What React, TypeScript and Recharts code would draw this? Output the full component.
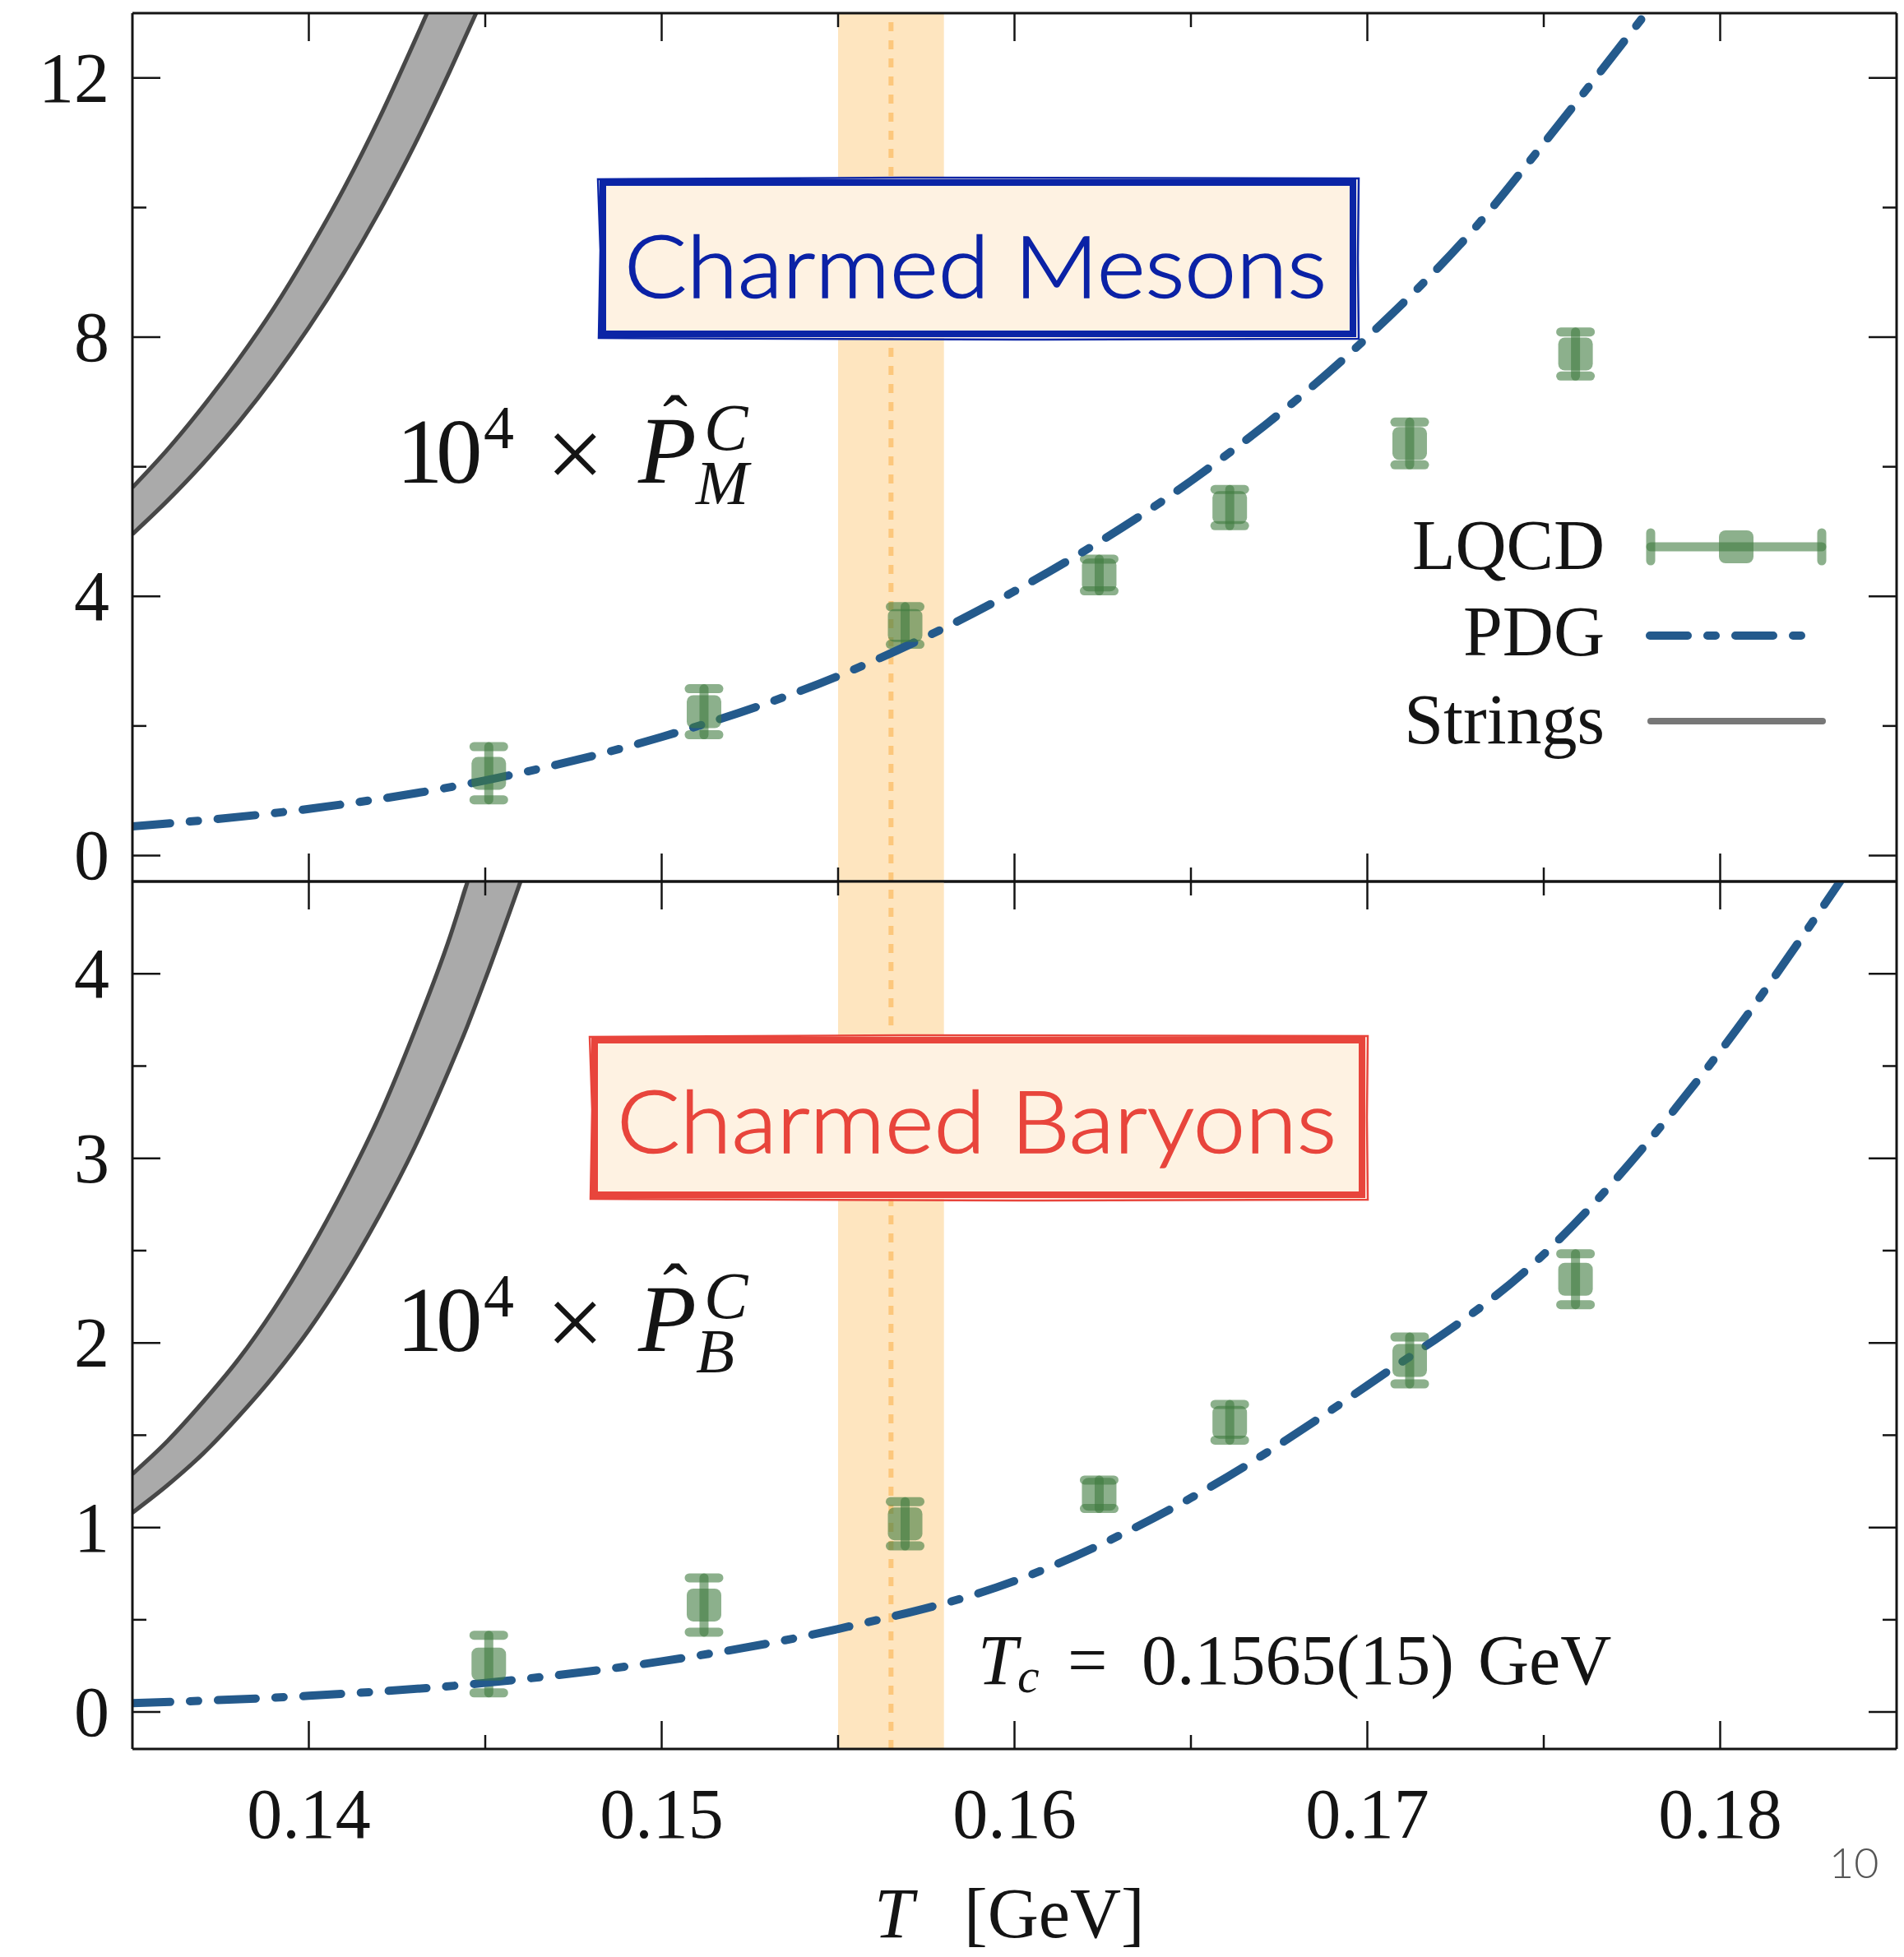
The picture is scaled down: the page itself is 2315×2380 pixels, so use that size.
import React from 'react';
import {
  ComposedChart,
  Line,
  Area,
  Scatter,
  ErrorBar,
  XAxis,
  YAxis,
  ReferenceArea,
  ReferenceLine,
} from 'recharts';

const W = 2315;
const H = 2380;

// temperature axis, GeV
const T_DOMAIN: [number, number] = [0.135, 0.185];
const T_TICKS = [0.14, 0.145, 0.15, 0.155, 0.16, 0.165, 0.17, 0.175, 0.18];

const MESON_Y_DOMAIN: [number, number] = [-0.4, 13];
const MESON_Y_TICKS = [0, 2, 4, 6, 8, 10, 12];
const BARYON_Y_DOMAIN: [number, number] = [-0.2, 4.5];
const BARYON_Y_TICKS = [0, 0.5, 1, 1.5, 2, 2.5, 3, 3.5, 4];

const TC = 0.1565;
const TC_ERR = 0.0015;

// lattice points
const LQCD_T = [0.1451, 0.1512, 0.1569, 0.1624, 0.1661, 0.1712, 0.1759];
const LQCD_MESON = [1.27, 2.22, 3.55, 4.33, 5.37, 6.36, 7.74];
const LQCD_MESON_ERR = [0.41, 0.355, 0.29, 0.245, 0.28, 0.33, 0.34];
const LQCD_BARYON = [0.26, 0.58, 1.02, 1.18, 1.57, 1.905, 2.345];
const LQCD_BARYON_ERR = [0.156, 0.147, 0.12, 0.077, 0.097, 0.127, 0.138];

// PDG hadron resonance gas curves
const PDG_MESON_T = [0.135, 0.14, 0.145, 0.15, 0.155, 0.16, 0.165, 0.17, 0.1732, 0.175, 0.1779];
const PDG_MESON = [0.45, 0.72, 1.16, 1.83, 2.77, 4.08, 5.78, 8.0, 9.78, 10.99, 13.0];
const PDG_BARYON_T = [0.135, 0.14, 0.145, 0.15, 0.155, 0.16, 0.165, 0.17, 0.175, 0.18, 0.1834];
const PDG_BARYON = [0.048, 0.088, 0.158, 0.275, 0.45, 0.71, 1.16, 1.77, 2.48, 3.58, 4.5];

// string model bands (lower / upper edge, capped at the frame)
const STR_MESON_T = [0.135, 0.136, 0.137, 0.138, 0.139, 0.14, 0.141, 0.142, 0.143, 0.14335, 0.144, 0.14474];
const STR_MESON_LO = [4.96, 5.48, 6.05, 6.68, 7.38, 8.15, 9.0, 9.94, 10.97, 11.36, 12.11, 13.0];
const STR_MESON_HI = [5.68, 6.27, 6.93, 7.65, 8.44, 9.33, 10.3, 11.38, 12.57, 13.0, 13.0, 13.0];
const STR_BARYON_T = [0.135, 0.136, 0.137, 0.138, 0.139, 0.14, 0.141, 0.142, 0.143, 0.144, 0.1445, 0.145, 0.146];
const STR_BARYON_LO = [1.08, 1.23, 1.4, 1.6, 1.82, 2.07, 2.36, 2.69, 3.06, 3.49, 3.72, 3.97, 4.5];
const STR_BARYON_HI = [1.29, 1.47, 1.68, 1.91, 2.18, 2.49, 2.84, 3.23, 3.69, 4.2, 4.5, 4.5, 4.5];

const SERIF = '"Liberation Serif", "Times New Roman", serif';
const SANS = 'Lato, "Open Sans", sans-serif';
const INK = '#141414';
const GREEN = '#3f7b3f';
const PDG_BLUE = '#245a8c';

const isMultiple = (v: number, step: number) => Math.abs(v / step - Math.round(v / step)) < 1e-6;

type Side = 'left' | 'right' | 'top' | 'bottom';

const makeTick = (side: Side, majorStep: number, label?: (v: number) => string) => (props: any) => {
  const { x, y, payload } = props;
  const v: number = payload.value;
  const major = isMultiple(v, majorStep);
  const len = major ? 34 : 17;
  let x2 = x;
  let y2 = y;
  if (side === 'left') x2 = x + len;
  if (side === 'right') x2 = x - len;
  if (side === 'top') y2 = y + len;
  if (side === 'bottom') y2 = y - len;
  return (
    <g>
      <line x1={x} y1={y} x2={x2} y2={y2} stroke={INK} strokeWidth={2.5} />
      {label && major && side === 'left' && (
        <text x={x - 28} y={y + 29} textAnchor="end" fontFamily={SERIF} fontSize={86} fill={INK}>
          {label(v)}
        </text>
      )}
      {label && major && side === 'bottom' && (
        <text x={x} y={y + 108} textAnchor="middle" fontFamily={SERIF} fontSize={86} fill={INK}>
          {label(v)}
        </text>
      )}
    </g>
  );
};

const AXIS_LINE = { stroke: INK, strokeWidth: 3 };

const Marker = (props: any) => {
  const { cx, cy } = props;
  if (cx == null || cy == null) return <g />;
  return <rect x={cx - 21} y={cy - 20} width={42} height={40} rx={8} fill={GREEN} fillOpacity={0.6} />;
};

type PanelProps = {
  top: number;
  height: number;
  margin: { top: number; right: number; bottom: number; left: number };
  yDomain: [number, number];
  yTicks: number[];
  yMajor: number;
  pdgT: number[];
  pdg: number[];
  lqcd: number[];
  lqcdErr: number[];
  strT: number[];
  strLo: number[];
  strHi: number[];
  xLabels: boolean;
};

const Panel: React.FC<PanelProps> = ({
  top, height, margin, yDomain, yTicks, yMajor, pdgT, pdg, lqcd, lqcdErr, strT, strLo, strHi, xLabels,
}) => {
  const ymax = yDomain[1];
  const pdgData = pdgT.map((T, i) => ({ T, v: pdg[i] }));
  const lqcdData = LQCD_T.map((T, i) => ({ T, v: lqcd[i], err: lqcdErr[i] }));
  const band = strT.map((T, i) => ({ T, lo: strLo[i], hi: strHi[i] }));
  const hiEdge = band.filter((p, i) => i === 0 || band[i - 1].hi < ymax);
  const loEdge = band.filter((p, i) => i === 0 || band[i - 1].lo < ymax);
  const fmtY = (v: number) => String(v);
  return (
    <div style={{ position: 'absolute', left: 0, top, width: W, height }}>
      <ComposedChart width={W} height={height} margin={margin}>
        <XAxis
          xAxisId="b" dataKey="T" type="number" domain={T_DOMAIN} allowDataOverflow ticks={T_TICKS}
          interval={0} height={1} tickSize={0} tickMargin={0} axisLine={AXIS_LINE} tickLine={false}
          tick={makeTick('bottom', 0.01, xLabels ? (v) => v.toFixed(2) : undefined)}
        />
        <XAxis
          xAxisId="t" orientation="top" dataKey="T" type="number" domain={T_DOMAIN} allowDataOverflow
          ticks={T_TICKS} interval={0} height={1} tickSize={0} tickMargin={0} axisLine={AXIS_LINE}
          tickLine={false} tick={makeTick('top', 0.01)}
        />
        <YAxis
          yAxisId="l" type="number" domain={yDomain} allowDataOverflow ticks={yTicks} interval={0}
          width={1} tickSize={0} tickMargin={0} axisLine={AXIS_LINE} tickLine={false}
          tick={makeTick('left', yMajor, fmtY)}
        />
        <YAxis
          yAxisId="r" orientation="right" type="number" domain={yDomain} allowDataOverflow ticks={yTicks}
          interval={0} width={1} tickSize={0} tickMargin={0} axisLine={AXIS_LINE} tickLine={false}
          tick={makeTick('right', yMajor)}
        />
        <ReferenceArea
          xAxisId="b" yAxisId="l" x1={TC - TC_ERR} x2={TC + TC_ERR}
          fill="#fee5bf" fillOpacity={1} stroke="none"
        />
        <ReferenceLine
          xAxisId="b" yAxisId="l" x={TC} stroke="#fcc77c" strokeWidth={6} strokeDasharray="11 11"
        />
        <Area
          xAxisId="b" yAxisId="l" data={band} dataKey={(d: any) => [d.lo, d.hi]} type="monotone"
          stroke="none" fill="#aaaaaa" fillOpacity={1} isAnimationActive={false} activeDot={false}
        />
        <Line
          xAxisId="b" yAxisId="l" data={hiEdge} dataKey="hi" type="monotone" stroke="#474747"
          strokeWidth={5} dot={false} activeDot={false} isAnimationActive={false}
        />
        <Line
          xAxisId="b" yAxisId="l" data={loEdge} dataKey="lo" type="monotone" stroke="#474747"
          strokeWidth={5} dot={false} activeDot={false} isAnimationActive={false}
        />
        <Scatter xAxisId="b" yAxisId="l" data={lqcdData} dataKey="v" shape={Marker} isAnimationActive={false}>
          <ErrorBar
            dataKey="err" direction="y" width={18} stroke={GREEN} strokeOpacity={0.6}
            strokeWidth={11} strokeLinecap="round"
          />
        </Scatter>
        <Line
          xAxisId="b" yAxisId="l" data={pdgData} dataKey="v" type="monotone" stroke={PDG_BLUE}
          strokeWidth={10} strokeDasharray="46 24 10 24" strokeLinecap="round" dot={false}
          activeDot={false} isAnimationActive={false}
        />
        <Line
          xAxisId="t" yAxisId="r" data={pdgData} dataKey="v" stroke="none" dot={false}
          activeDot={false} isAnimationActive={false}
        />
      </ComposedChart>
    </div>
  );
};

const SketchBox: React.FC<{ x: number; y: number; w: number; h: number; color: string }> = ({ x, y, w, h, color }) => (
  <g>
    <rect x={x} y={y} width={w} height={h} fill="#fef2e2" />
    <rect x={x + 4} y={y + 5} width={w - 9} height={h - 10} fill="none" stroke={color} strokeWidth={8} />
    <path
      d={`M${x - 2} ${y + 1} L${x + w * 0.4} ${y - 1} L${x + w + 2} ${y} L${x + w + 1} ${y + h * 0.5} L${x + w + 2} ${y + h + 1} L${x + w * 0.55} ${y + h + 2} L${x - 1} ${y + h} L${x + 1} ${y + h * 0.45} Z`}
      fill="none" stroke={color} strokeWidth={2.5}
    />
  </g>
);

const fit = 'spacingAndGlyphs';

// 10^4 x P-hat^C_sub, laid out as one text element
const HatTerm: React.FC<{ dy: number; sub: string }> = ({ dy, sub }) => (
  <text fontFamily={SERIF} fill={INK}>
    <tspan x="482 530" y={587 + dy} fontSize={113}>10</tspan>
    <tspan x={588} y={545 + dy} fontSize={74}>4</tspan>
    <tspan x={664} y={594 + dy} fontSize={125}>×</tspan>
    <tspan x={776} y={587 + dy} fontSize={116} fontStyle="italic">P</tspan>
    <tspan x={806} y={544 + dy} fontSize={90}>ˆ</tspan>
    <tspan x={856} y={547 + dy} fontSize={80} fontStyle="italic">C</tspan>
    <tspan x={846} y={613 + dy} fontSize={77} fontStyle="italic">{sub}</tspan>
  </text>
);

const Overlay: React.FC = () => (
  <svg width={W} height={H} style={{ position: 'absolute', left: 0, top: 0, pointerEvents: 'none' }}>
    <SketchBox x={729} y={217} w={921} h={194} color="#0b25a6" />
    <text
      x={759} y={362} fontFamily={SANS} fontWeight={300} fontSize={104} fill="#0b22a6"
      stroke="#0b22a6" strokeWidth={1.6} textLength={854} lengthAdjust={fit}
    >
      Charmed Mesons
    </text>
    <SketchBox x={719} y={1260} w={942} h={198} color="#e8453c" />
    <text
      x={750} y={1402} fontFamily={SANS} fontWeight={300} fontSize={104} fill="#e8453c"
      stroke="#e8453c" strokeWidth={1.6} textLength={875} lengthAdjust={fit}
    >
      Charmed Baryons
    </text>

    <HatTerm dy={0} sub="M" />
    <HatTerm dy={1056} sub="B" />

    {/* legend */}
    <g fontFamily={SERIF} fontSize={86} fill={INK} textAnchor="end">
      <text x={1951} y={692}>LQCD</text>
      <text x={1951} y={797}>PDG</text>
      <text x={1951} y={904}>Strings</text>
    </g>
    <g stroke={GREEN} strokeOpacity={0.6} strokeWidth={11} strokeLinecap="round">
      <line x1={2007} y1={665} x2={2215} y2={665} />
      <line x1={2007} y1={648} x2={2007} y2={682} />
      <line x1={2215} y1={648} x2={2215} y2={682} />
    </g>
    <rect x={2090} y={645} width={42} height={40} rx={8} fill={GREEN} fillOpacity={0.6} />
    <line x1={2006} y1={773} x2={2196} y2={773} stroke={PDG_BLUE} strokeWidth={10} strokeDasharray="46 24 10 24" strokeLinecap="round" />
    <line x1={2007} y1={877} x2={2216} y2={877} stroke="#777777" strokeWidth={8} strokeLinecap="round" />

    {/* Tc annotation */}
    <text fontFamily={SERIF} fill={INK} fontSize={86}>
      <tspan x={1189} y={2048} fontStyle="italic">T</tspan>
      <tspan x={1237} y={2058} fontSize={60} fontStyle="italic">c</tspan>
      <tspan x={1298} y={2048}>=</tspan>
      <tspan x={1388} y={2048}>0.1565(15)</tspan>
      <tspan x={1797} y={2048}>GeV</tspan>
    </text>

    {/* x axis label */}
    <text fontFamily={SERIF} fill={INK} fontSize={86}>
      <tspan x={1063} y={2356} fontStyle="italic">T</tspan>
      <tspan x={1172} y={2356}>[GeV]</tspan>
    </text>

    <text x={2224} y={2284} fontFamily={SANS} fontWeight={300} fontSize={52} fill="#555555">10</text>
  </svg>
);

export default function App() {
  return (
    <div style={{ position: 'absolute', left: 0, top: 0, width: W, height: H, background: '#ffffff', overflow: 'hidden' }}>
      <style>{'.recharts-surface { overflow: visible; }'}</style>
      <Panel
        top={0}
        height={1073}
        margin={{ top: 15, right: 8, bottom: 0, left: 160 }}
        yDomain={MESON_Y_DOMAIN}
        yTicks={MESON_Y_TICKS}
        yMajor={4}
        pdgT={PDG_MESON_T}
        pdg={PDG_MESON}
        lqcd={LQCD_MESON}
        lqcdErr={LQCD_MESON_ERR}
        strT={STR_MESON_T}
        strLo={STR_MESON_LO}
        strHi={STR_MESON_HI}
        xLabels={false}
      />
      <Panel
        top={1071}
        height={1309}
        margin={{ top: 0, right: 8, bottom: 252, left: 160 }}
        yDomain={BARYON_Y_DOMAIN}
        yTicks={BARYON_Y_TICKS}
        yMajor={1}
        pdgT={PDG_BARYON_T}
        pdg={PDG_BARYON}
        lqcd={LQCD_BARYON}
        lqcdErr={LQCD_BARYON_ERR}
        strT={STR_BARYON_T}
        strLo={STR_BARYON_LO}
        strHi={STR_BARYON_HI}
        xLabels
      />
      <Overlay />
    </div>
  );
}
